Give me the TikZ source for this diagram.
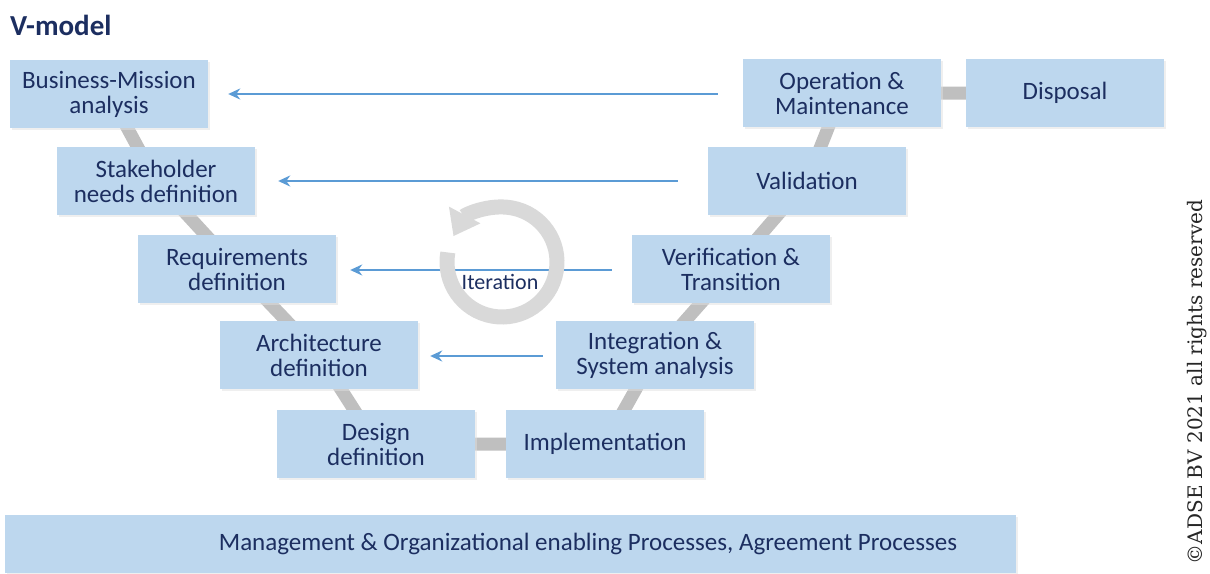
\documentclass[tikz,border=0pt]{standalone}
\usepackage{fontspec}
\setmainfont{Carlito}
\newfontfamily\cprfont{DejaVu Serif}
\usetikzlibrary{arrows.meta,shadows}
\definecolor{boxblue}{RGB}{189,215,238}
\definecolor{navy}{RGB}{28,46,96}
\definecolor{arrblue}{RGB}{91,155,213}
\definecolor{lgray}{RGB}{191,191,191}
\definecolor{rgray}{RGB}{217,217,217}
\tikzset{
  vbox/.style={rectangle, fill=boxblue, minimum width=198pt, minimum height=68pt,
    align=center, text=navy, inner sep=2pt,
    font=\fontsize{25}{25}\selectfont,
    drop shadow={shadow xshift=1.5pt, shadow yshift=-1.5pt, fill=black!12}},
  link/.style={draw=lgray, line width=13pt},
  back/.style={draw=arrblue, line width=1.8pt, -{Stealth[length=12pt,width=11pt]}},
}
\begin{document}
\begin{tikzpicture}[x=1pt,y=-1pt]
\useasboundingbox (0,0) rectangle (1210,573);
% title
\node[anchor=west, text=navy, inner sep=0pt, font=\fontsize{29}{30}\selectfont\bfseries] (title) at (10,25) {V-model};
% coordinates of box centres
\coordinate (cbm) at (109,94);
\coordinate (csn) at (156,181);
\coordinate (crq) at (237,269);
\coordinate (car) at (319,355);
\coordinate (cds) at (376,444);
\coordinate (cim) at (605,444);
\coordinate (cin) at (655,355);
\coordinate (cve) at (731,269);
\coordinate (cva) at (807,181);
\coordinate (cop) at (842,93);
\coordinate (cdi) at (1065,93);
% grey links behind boxes
\draw[link] (cbm) -- (csn) -- (crq) -- (car) -- (cds) -- (cim) -- (cin) -- (cve) -- (cva) -- (cop) -- (cdi);
% boxes
\node[vbox] (bm) at (cbm) {Business-Mission\\analysis};
\node[vbox] (sn) at (csn) {Stakeholder\\needs definition};
\node[vbox] (rq) at (crq) {Requirements\\definition};
\node[vbox] (ar) at (car) {Architecture\\definition};
\node[vbox] (ds) at (cds) {Design\\definition};
\node[vbox] (im) at (cim) {Implementation};
\node[vbox] (in) at (cin) {Integration \&\\System analysis};
\node[vbox] (ve) at (cve) {Verification \&\\Transition};
\node[vbox] (va) at (cva) {Validation};
\node[vbox] (op) at (cop) {Operation \&\\Maintenance};
\node[vbox] (di) at (cdi) {Disposal};
% feedback arrows
\draw[back] ([xshift=-25pt,yshift=-1pt]op.west) -- ([xshift=20pt]bm.east);
\draw[back] ([xshift=-30pt]va.west) -- ([xshift=23pt]sn.east);
\draw[back] ([xshift=-20pt,yshift=-1pt]ve.west) -- ([xshift=14pt,yshift=-1pt]rq.east);
\draw[back] ([xshift=-13pt,yshift=-1pt]in.west) -- ([xshift=12pt,yshift=-1pt]ar.east);
% iteration ring
\coordinate (ringc) at (502,262);
\draw[draw=rgray, line width=15pt, -{Triangle[length=24pt,width=34pt]}]
  ([shift={(-170:55)}]ringc) arc[start angle=-170, end angle=-512, radius=55];
\node[text=navy, font=\fontsize{22}{24}\selectfont] (iter) at (500,282) {Iteration};
% bottom bar
\node[rectangle, fill=boxblue, minimum width=1011pt, minimum height=58pt, anchor=north west,
  inner sep=0pt, drop shadow={shadow xshift=1.5pt, shadow yshift=-1.5pt, fill=black!12}] (bar) at (5,515) {};
\node[text=navy, font=\fontsize{25}{26}\selectfont] (bartext) at (588,544)
  {Management \& Organizational enabling Processes, Agreement Processes};
% copyright
\node[rotate=90, text=black!85, font=\cprfont\fontsize{20}{22}\selectfont] (cpr) at (1197,382)
  {\textcopyright ADSE BV 2021 all rights reserved};
\end{tikzpicture}
\end{document}
